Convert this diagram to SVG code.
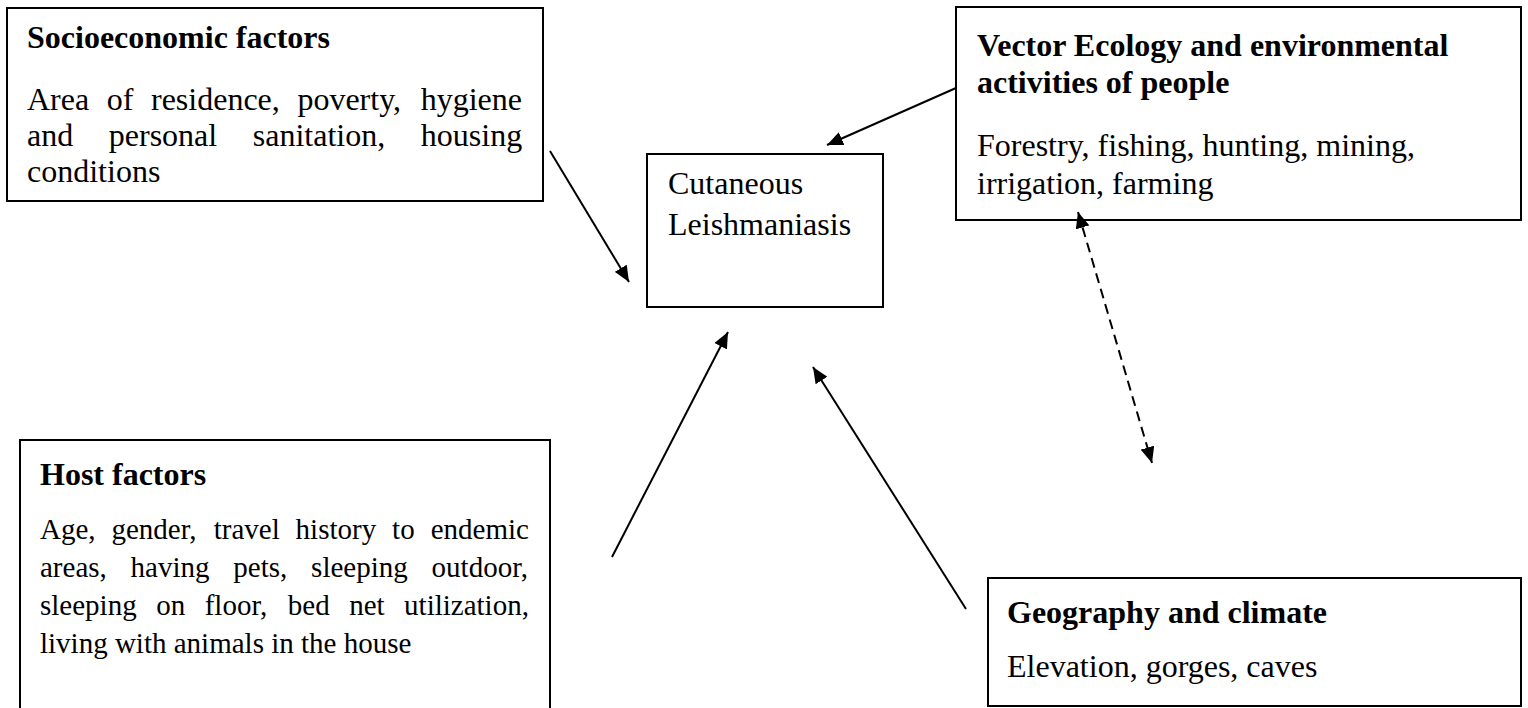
<svg xmlns="http://www.w3.org/2000/svg" width="1528" height="708" viewBox="0 0 1528 708">
  <style>
    .box { fill: #fff; stroke: #000; stroke-width: 2; }
    .t { font-family: "Liberation Serif", "Times New Roman", serif; font-size: 32px; fill: #000; }
    .b { font-weight: bold; }
    .s { font-size: 29px; }
    .conn { stroke: #000; stroke-width: 2; fill: none; }
    .dash { stroke-dasharray: 10 6; }
  </style>
  <defs>
    <marker id="ah" markerUnits="userSpaceOnUse" markerWidth="17" markerHeight="14" refX="16" refY="7" orient="auto-start-reverse">
      <path d="M0,0 L16,7 L0,14 Z" fill="#000"/>
    </marker>
  </defs>
  <rect width="1528" height="708" fill="#fff"/>

  <g id="socioeconomic">
    <rect class="box" x="7" y="8" width="536" height="193"/>
    <text class="t b" x="27" y="48">Socioeconomic factors</text>
    <text class="t" y="110"><tspan x="27">Area</tspan><tspan x="106.8">of</tspan><tspan x="151">residence,</tspan><tspan x="297.4">poverty,</tspan><tspan x="420.7">hygiene</tspan></text>
    <text class="t" y="146"><tspan x="27">and</tspan><tspan x="108.8">personal</tspan><tspan x="252.8">sanitation,</tspan><tspan x="420.8">housing</tspan></text>
    <text class="t" x="27" y="182">conditions</text>
  </g>

  <g id="cutaneous">
    <rect class="box" x="647" y="154" width="236" height="153"/>
    <text class="t" x="668" y="194">Cutaneous</text>
    <text class="t" x="668" y="235">Leishmaniasis</text>
  </g>

  <g id="vector">
    <rect class="box" x="956" y="7" width="565" height="213"/>
    <text class="t b" x="977" y="56">Vector Ecology and environmental</text>
    <text class="t b" x="977" y="93">activities of people</text>
    <text class="t" x="977" y="156">Forestry, fishing, hunting, mining,</text>
    <text class="t" x="977" y="194">irrigation, farming</text>
  </g>

  <g id="host">
    <rect class="box" x="20" y="440" width="530" height="290"/>
    <text class="t b" x="40" y="485">Host factors</text>
    <text class="t s" y="539"><tspan x="40">Age,</tspan><tspan x="111.5">gender,</tspan><tspan x="213.7">travel</tspan><tspan x="295.6">history</tspan><tspan x="392.1">to</tspan><tspan x="430.7">endemic</tspan></text>
    <text class="t s" y="577"><tspan x="40">areas,</tspan><tspan x="130.6">having</tspan><tspan x="233.3">pets,</tspan><tspan x="311.1">sleeping</tspan><tspan x="431.6">outdoor,</tspan></text>
    <text class="t s" y="615"><tspan x="40">sleeping</tspan><tspan x="156.2">on</tspan><tspan x="204.7">floor,</tspan><tspan x="287.8">bed</tspan><tspan x="349.2">net</tspan><tspan x="404.1">utilization,</tspan></text>
    <text class="t s" x="40" y="653">living with animals in the house</text>
  </g>

  <g id="geography">
    <rect class="box" x="988" y="578" width="533" height="128"/>
    <text class="t b" x="1007" y="623">Geography and climate</text>
    <text class="t" x="1007" y="677">Elevation, gorges, caves</text>
  </g>

  <g id="connectors">
    <line class="conn" x1="550" y1="151" x2="629" y2="282" marker-end="url(#ah)"/>
    <line class="conn" x1="956" y1="88" x2="827" y2="145" marker-end="url(#ah)"/>
    <line class="conn" x1="612" y1="557" x2="728" y2="332" marker-end="url(#ah)"/>
    <line class="conn" x1="966" y1="609" x2="813" y2="367" marker-end="url(#ah)"/>
    <line class="conn dash" x1="1078" y1="212" x2="1152" y2="463" marker-start="url(#ah)" marker-end="url(#ah)"/>
  </g>
</svg>
